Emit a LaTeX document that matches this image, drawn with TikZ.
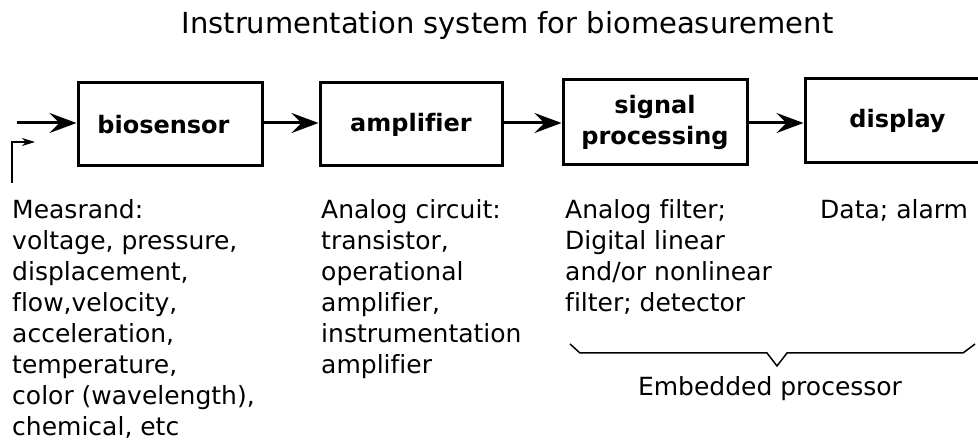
\documentclass[tikz,border=0pt]{standalone}
\usepackage{fontspec}
\setmainfont{DejaVu Sans}[Ligatures=CommonOff]
\usetikzlibrary{arrows.meta}
\tikzset{
    stage/.style={rectangle,draw=black,line width=3pt,inner sep=0,align=center,
        font=\fontsize{24}{31}\selectfont\bfseries},
    flow/.style={line width=3pt,-{Stealth[length=27pt,width=20pt,inset=10pt]}},
    leader/.style={line width=1.5pt,-{Stealth[length=13pt,width=8pt,inset=4pt]}},
    note/.style={anchor=north west,align=left,inner sep=0,font=\fontsize{25}{31}\selectfont}
}
\begin{document}
\begin{tikzpicture}[x=1pt,y=-1pt]
    \useasboundingbox (0,0) rectangle (978,443);
    \clip (0,0) rectangle (978,443);
    \node[font=\fontsize{29}{34}\selectfont,anchor=base] (title) at (507.5,34) {Instrumentation system for biomeasurement};
    % blocks
    \node[stage,minimum width=184pt,minimum height=83pt] (sensor) at (170,124.5) {biosensor\hspace*{13pt}};
    \node[stage,minimum width=182pt,minimum height=83pt] (amp) at (411,124.5) {amplifier};
    \node[stage,minimum width=184pt,minimum height=85pt] (proc) at (655,122.5) {signal\\processing};
    \node[stage,minimum width=185pt,minimum height=84pt] (disp) at (897.5,121) {display};
    \coordinate (in) at (17,123);
    \draw[flow] (in) -- (sensor.west |- in);
    \draw[flow] (sensor.east |- in) -- (amp.west |- in);
    \draw[flow] (amp.east |- in) -- (proc.west |- in);
    \draw[flow] (proc.east |- in) -- (disp.west |- in);
    % measurand pointer
    \coordinate (tail) at (12,183);
    \coordinate (tip) at (35,142);
    \draw[leader] (tail) |- (tip);
    % descriptions
    \node[note] (measrand) at (12,199) {Measrand:\\voltage, pressure,\\displacement,\\flow,velocity,\\acceleration,\\temperature,\\color (wavelength),\\chemical, etc};
    \node[note] (circuit) at (321,199) {Analog circuit:\\transistor,\\operational\\amplifier,\\instrumentation\\amplifier};
    \node[note] (filter) at (565,199) {Analog filter;\\Digital linear\\and/or nonlinear\\filter; detector};
    \node[note] (data) at (820,199) {Data; alarm};
    % brace
    \coordinate (bl) at (570,344);
    \coordinate (bm) at (777,366);
    \coordinate (br) at (975,344);
    \draw[line width=1.5pt] (bl) -- (580,353) -- (767,353) -- (bm) -- (787,353) -- (963,353) -- (br);
    \node[font=\fontsize{25}{31}\selectfont,anchor=base] (embedded) at (770,396) {Embedded processor};
\end{tikzpicture}
\end{document}
